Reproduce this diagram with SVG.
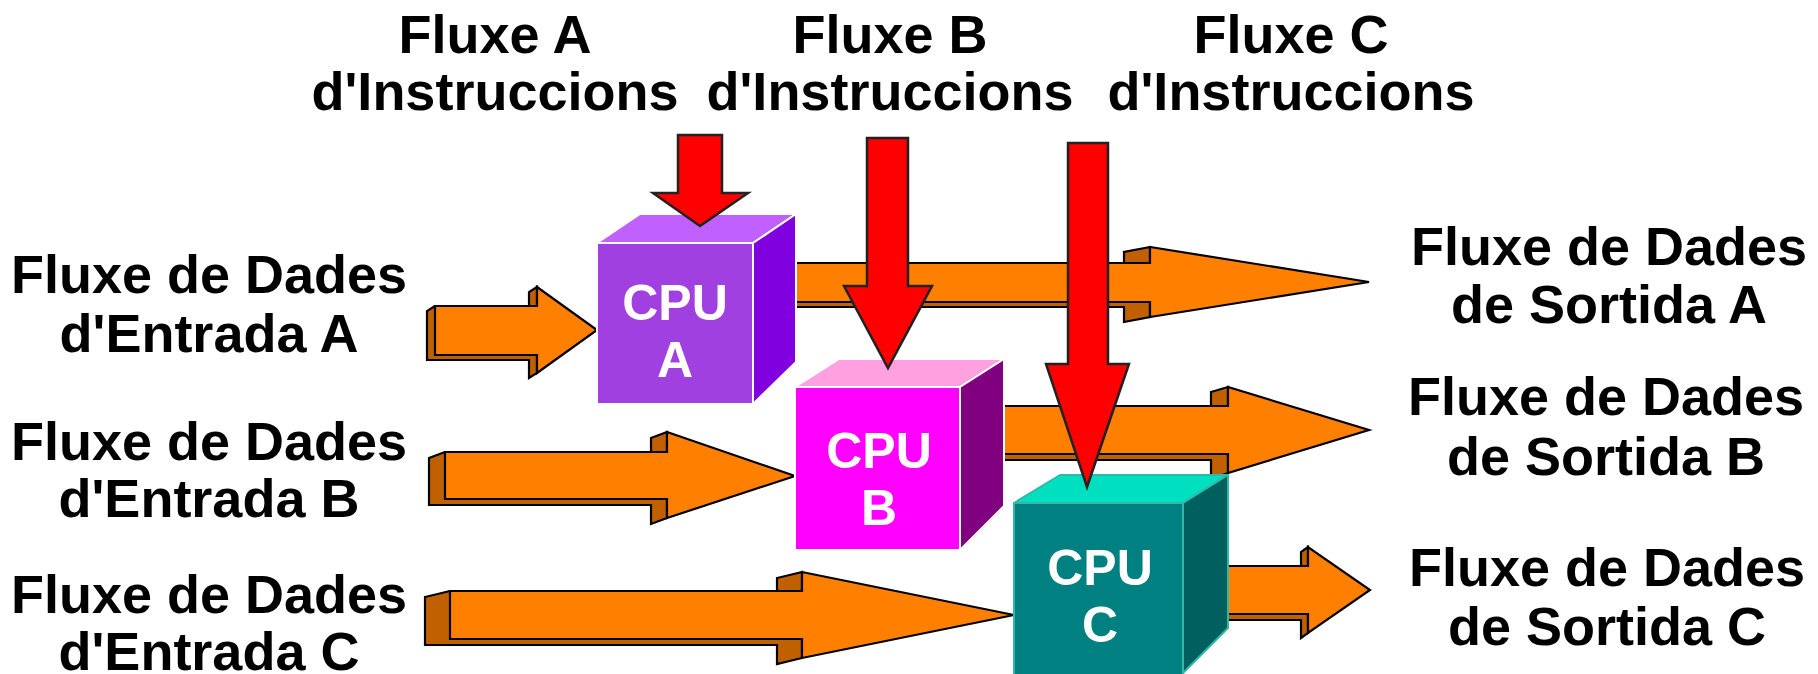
<svg xmlns="http://www.w3.org/2000/svg" width="1818" height="674" viewBox="0 0 1818 674">
<style>
.lbl{font-family:"Liberation Sans",Arial,sans-serif;font-weight:bold;font-size:54px;fill:#000;text-anchor:middle}
.cpu{font-family:"Liberation Sans",Arial,sans-serif;font-weight:bold;font-size:50px;fill:#fff;text-anchor:middle}
.of{fill:#FF8000;stroke:#000;stroke-width:2.2;stroke-linejoin:miter}
.od{fill:#C06000;stroke:#000;stroke-width:2.2;stroke-linejoin:miter}
.red{fill:#FF0000;stroke:#222;stroke-width:2.5;stroke-linejoin:miter}
.edge{stroke:#fff;stroke-width:2;stroke-linejoin:round}
.edgec{stroke:#30B8A8;stroke-width:2;stroke-linejoin:round}
</style>
<rect width="1818" height="674" fill="#fff"/>

<g id="connectors-data">
  <g id="out-A">
    <polygon class="od" points="785,263 759,268 759,307 1124,307 1124,322 1150,317 1150,263"/>
    <polygon class="od" points="1150,247 1124,252 1124,268 1150,263"/>
    <polygon class="of" points="785,263 1150,263 1150,247 1369,282 1150,317 1150,302 785,302"/>
  </g>
  <g id="out-B">
    <polygon class="od" points="990,406 973,411 973,460 1211,460 1211,479 1228,473 1228,406"/>
    <polygon class="od" points="1228,387 1211,392 1211,411 1228,406"/>
    <polygon class="of" points="990,406 1228,406 1228,387 1369,430 1228,473 1228,454 990,454"/>
  </g>
  <g id="out-C">
    <polygon class="od" points="1215,566 1208,571 1208,620 1301,620 1301,638 1308,633 1308,566"/>
    <polygon class="od" points="1308,547 1301,552 1301,571 1308,566"/>
    <polygon class="of" points="1215,566 1308,566 1308,547 1370,590 1308,633 1308,614 1215,614"/>
  </g>
  <g id="in-A">
    <polygon class="od" points="435,306 427,311 427,360 529,360 529,378 537,373 537,306"/>
    <polygon class="od" points="537,287 529,292 529,311 537,306"/>
    <polygon class="of" points="435,306 537,306 537,287 597,330 537,373 537,355 435,355"/>
  </g>
  <g id="in-B">
    <polygon class="od" points="445,452 429,458 429,505 651,505 651,524 667,518 667,452"/>
    <polygon class="od" points="667,432 651,438 651,458 667,452"/>
    <polygon class="of" points="445,452 667,452 667,432 795,476 667,518 667,499 445,499"/>
  </g>
  <g id="in-C">
    <polygon class="od" points="450,591 425,597 425,645 777,645 777,664 802,658 802,591"/>
    <polygon class="od" points="802,572 777,578 777,597 802,591"/>
    <polygon class="of" points="450,591 802,591 802,572 1014,615 802,658 802,639 450,639"/>
  </g>
</g>

<g id="cpu-A">
  <polygon class="edge" fill="#C060FF" points="597,243 640,214 796,214 753,243"/>
  <polygon class="edge" fill="#8000E0" points="753,243 796,214 796,362 753,404"/>
  <rect class="edge" fill="#A040E0" x="597" y="243" width="156" height="161"/>
  <text class="cpu" x="675" y="320">CPU</text>
  <text class="cpu" x="675" y="377">A</text>
</g>
<g id="cpu-B">
  <polygon class="edge" fill="#FFA0E0" points="795,387 839,359 1004,359 960,387"/>
  <polygon class="edge" fill="#800080" points="960,387 1004,359 1004,506 960,550"/>
  <rect class="edge" fill="#FF00FF" x="795" y="387" width="165" height="163"/>
  <text class="cpu" x="879" y="468">CPU</text>
  <text class="cpu" x="879" y="525">B</text>
</g>
<g id="cpu-C">
  <polygon class="edgec" fill="#00E0C0" points="1014,503 1060,475 1228,475 1183,503"/>
  <polygon class="edgec" fill="#006060" points="1183,503 1228,475 1228,628 1183,673"/>
  <rect class="edgec" fill="#008080" x="1014" y="503" width="169" height="180"/>
  <text class="cpu" x="1100" y="585">CPU</text>
  <text class="cpu" x="1100" y="642">C</text>
</g>

<g id="connectors-instr">
  <polygon id="instr-A" class="red" points="678,135 722,135 722,193 748,193 700,226 653,193 678,193"/>
  <polygon id="instr-B" class="red" points="867,138 908,138 908,286 932,286 888,368 844,286 867,286"/>
  <polygon id="instr-C" class="red" points="1068,143 1108,143 1108,364 1129,364 1087,487 1046,364 1068,364"/>
</g>

<g id="label-instr-A">
  <text class="lbl" x="495" y="53">Fluxe A</text>
  <text class="lbl" x="495" y="110">d'Instruccions</text>
</g>
<g id="label-instr-B">
  <text class="lbl" x="890" y="53">Fluxe B</text>
  <text class="lbl" x="890" y="110">d'Instruccions</text>
</g>
<g id="label-instr-C">
  <text class="lbl" x="1291" y="53">Fluxe C</text>
  <text class="lbl" x="1291" y="110">d'Instruccions</text>
</g>
<g id="label-in-A">
  <text class="lbl" x="209" y="293">Fluxe de Dades</text>
  <text class="lbl" x="209" y="352">d'Entrada A</text>
</g>
<g id="label-in-B">
  <text class="lbl" x="209" y="460">Fluxe de Dades</text>
  <text class="lbl" x="209" y="517">d'Entrada B</text>
</g>
<g id="label-in-C">
  <text class="lbl" x="209" y="613">Fluxe de Dades</text>
  <text class="lbl" x="209" y="670">d'Entrada C</text>
</g>
<g id="label-out-A">
  <text class="lbl" x="1609" y="265">Fluxe de Dades</text>
  <text class="lbl" x="1609" y="323">de Sortida A</text>
</g>
<g id="label-out-B">
  <text class="lbl" x="1606" y="415">Fluxe de Dades</text>
  <text class="lbl" x="1606" y="475">de Sortida B</text>
</g>
<g id="label-out-C">
  <text class="lbl" x="1607" y="586">Fluxe de Dades</text>
  <text class="lbl" x="1607" y="645">de Sortida C</text>
</g>
</svg>
